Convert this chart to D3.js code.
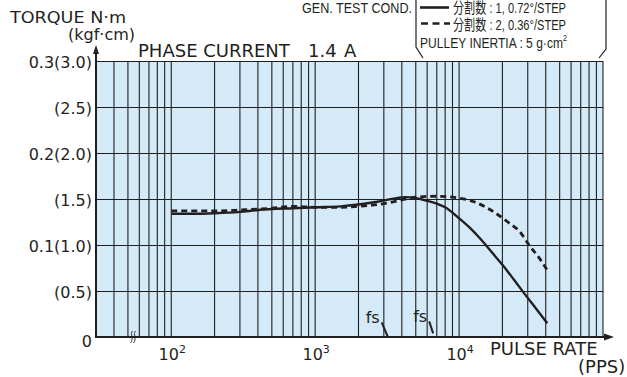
<!DOCTYPE html>
<html>
<head>
<meta charset="utf-8">
<script src="https://cdn.jsdelivr.net/npm/d3@7"></script>
<style>
  body { margin: 0; background: #fff; }
  svg { display: block; font-family: "DejaVu Sans", sans-serif; }
  text { fill: #231f20; }
</style>
</head>
<body>
<svg id="chart" width="627" height="377"></svg>
<script>
// torque curves (kgf·cm vs pulses per second)
var rateDiv1   = [100, 150, 200, 300, 400, 700, 1000, 1500, 2000, 2700, 3700, 4200, 5000, 6000, 7000, 8000, 10000, 12000, 14000, 17000, 20000, 24000, 28000, 34000, 41000];
var torqueDiv1 = [1.34, 1.34, 1.345, 1.36, 1.38, 1.40, 1.41, 1.42, 1.44, 1.47, 1.51, 1.52, 1.51, 1.48, 1.45, 1.41, 1.29, 1.18, 1.07, 0.915, 0.785, 0.625, 0.485, 0.315, 0.15];
var rateDiv2   = [100, 200, 300, 500, 700, 1000, 1500, 2000, 3000, 4000, 5000, 7000, 10000, 12700, 16600, 21800, 26900, 30600, 36000, 42000];
var torqueDiv2 = [1.37, 1.37, 1.38, 1.40, 1.42, 1.41, 1.41, 1.42, 1.45, 1.49, 1.52, 1.53, 1.51, 1.47, 1.38, 1.25, 1.13, 1.00, 0.86, 0.70];

// fs markers (start of the pull-in curves)
var fsRate   = [[2900, 3200], [6200, 6600]];
var fsTorque = [[0.16, 0.0], [0.17, 0.04]];

var yTicks      = [0, 0.5, 1.0, 1.5, 2.0, 2.5, 3.0];
var yTickLabels = ["0", "(0.5)", "0.1(1.0)", "(1.5)", "0.2(2.0)", "(2.5)", "0.3(3.0)"];
var xDecades    = [2, 3, 4];

var ink = "#231f20";
var svg = d3.select("#chart");

var x = d3.scaleLog().domain([30, 100000]).range([96, 603]);
var y = d3.scaleLinear().domain([0, 3]).range([337, 61]);

/* plot area */
svg.append("rect")
  .attr("x", x(30)).attr("y", y(3))
  .attr("width", x(100000) - x(30)).attr("height", y(0) - y(3))
  .attr("fill", "#d4eaf8");

/* grid */
var vLines = [];
[10, 100, 1000, 10000].forEach(function (dec) {
  for (var k = 1; k <= 9; k++) {
    var v = dec * k;
    if (v > 30) vLines.push(v);
  }
});
vLines.push(100000);

var grid = svg.append("g").attr("stroke", "#1f1f1f").attr("stroke-width", 1.1);
grid.selectAll(".vg").data(vLines).enter().append("line")
  .attr("x1", d => x(d)).attr("x2", d => x(d))
  .attr("y1", y(3)).attr("y2", y(0));
grid.selectAll(".hg").data(yTicks.slice(1)).enter().append("line")
  .attr("x1", x(30)).attr("x2", x(100000))
  .attr("y1", d => Math.round(y(d)) + 0.5).attr("y2", d => Math.round(y(d)) + 0.5);

/* curves */
var line = d3.line()
  .x(d => x(d[0]))
  .y(d => y(d[1]))
  .curve(d3.curveMonotoneX);

svg.append("path")
  .datum(d3.zip(rateDiv1, torqueDiv1))
  .attr("d", line)
  .attr("fill", "none").attr("stroke", ink).attr("stroke-width", 2.4);

svg.append("path")
  .datum(d3.zip(rateDiv2, torqueDiv2))
  .attr("d", line)
  .attr("fill", "none").attr("stroke", ink).attr("stroke-width", 2.8)
  .attr("stroke-dasharray", "6,4");

/* fs marks */
fsRate.forEach(function (r, i) {
  var pts = d3.zip(r, fsTorque[i]);
  svg.append("path")
    .attr("d", d3.line().x(d => x(d[0])).y(d => y(d[1]))(pts))
    .attr("stroke", ink).attr("stroke-width", 2).attr("fill", "none");
  svg.append("text")
    .attr("x", x(r[0]) - 2).attr("y", y(fsTorque[i][0]) + 1)
    .attr("text-anchor", "end").attr("font-size", 16)
    .text("fs");
});

/* axes */
svg.append("line")
  .attr("x1", x(30)).attr("x2", 606)
  .attr("y1", y(0)).attr("y2", y(0))
  .attr("stroke", ink).attr("stroke-width", 2);
svg.append("path")
  .attr("d", "M614," + y(0) + "L604," + (y(0) - 3.5) + "L604," + (y(0) + 3.5) + "Z")
  .attr("fill", ink);
svg.append("line")
  .attr("x1", x(30)).attr("x2", x(30))
  .attr("y1", y(0) + 1).attr("y2", 52)
  .attr("stroke", ink).attr("stroke-width", 2);
svg.append("path")
  .attr("d", "M" + x(30) + ",45L" + (x(30) - 3) + ",54L" + (x(30) + 3) + ",54Z")
  .attr("fill", ink);

/* axis break */
var brk = svg.append("g").attr("fill", "none").attr("stroke", ink).attr("stroke-width", 0.9);
[131.5, 134.5].forEach(function (bx) {
  brk.append("path")
    .attr("d", "M" + (bx + 1) + ",331 C" + (bx - 2) + ",334 " + (bx + 3) + ",338 " + (bx - 1) + ",343");
});

/* tick labels */
svg.selectAll(".yl").data(yTicks).enter().append("text")
  .attr("x", 92).attr("y", d => y(d) + 7 + (d === 0 ? 3 : 0))
  .attr("text-anchor", "end").attr("font-size", 16)
  .text((d, i) => yTickLabels[i]);

xDecades.forEach(function (p) {
  var t = svg.append("text")
    .attr("x", x(Math.pow(10, p)) + 1).attr("y", 360)
    .attr("text-anchor", "middle").attr("font-size", 16);
  t.append("tspan").text("10");
  t.append("tspan").attr("dy", -7).attr("font-size", 11).text(p);
});

/* titles */
svg.append("text").attr("x", 10).attr("y", 23).attr("font-size", 16)
  .attr("textLength", 116).attr("lengthAdjust", "spacingAndGlyphs").text("TORQUE N·m");
svg.append("text").attr("x", 68).attr("y", 40).attr("font-size", 16).text("(kgf·cm)");
svg.append("text").attr("x", 138).attr("y", 57).attr("font-size", 18).text("PHASE CURRENT");
svg.append("text").attr("x", 308).attr("y", 57).attr("font-size", 18).text("1.4");
svg.append("text").attr("x", 344).attr("y", 57).attr("font-size", 18).text("A");
svg.append("text").attr("x", 490).attr("y", 355).attr("font-size", 18).text("PULSE RATE");
svg.append("text").attr("x", 578).attr("y", 373).attr("font-size", 18).text("(PPS)");

/* legend box */
svg.append("path")
  .attr("d", "M416,0 L416,47 L423,58 M606,0 L606,49 L599,58")
  .attr("fill", "none").attr("stroke", ink).attr("stroke-width", 1.2);

var legFont = '"Liberation Sans", Arial, "Noto Sans CJK JP", sans-serif';
svg.append("text").attr("x", 302).attr("y", 13).attr("font-size", 15)
  .attr("font-family", legFont)
  .attr("textLength", 110).attr("lengthAdjust", "spacingAndGlyphs")
  .text("GEN. TEST COND.");

svg.append("line").attr("x1", 420).attr("x2", 449).attr("y1", 7.5).attr("y2", 7.5)
  .attr("stroke", ink).attr("stroke-width", 2.6);
svg.append("line").attr("x1", 421).attr("x2", 450).attr("y1", 23.5).attr("y2", 23.5)
  .attr("stroke", ink).attr("stroke-width", 2.6).attr("stroke-dasharray", "7,4.5");

var legRows = ["分割数 : 1, 0.72°/STEP", "分割数 : 2, 0.36°/STEP"];
legRows.forEach(function (s, i) {
  svg.append("text").attr("x", 453).attr("y", 13 + i * 17).attr("font-size", 15)
    .attr("font-family", legFont)
    .attr("textLength", 113).attr("lengthAdjust", "spacingAndGlyphs")
    .text(s);
});
var inertia = svg.append("text").attr("x", 420).attr("y", 48).attr("font-size", 15)
  .attr("font-family", legFont)
  .attr("textLength", 147).attr("lengthAdjust", "spacingAndGlyphs");
inertia.append("tspan").text("PULLEY INERTIA : 5 g·cm");
inertia.append("tspan").attr("dy", -7).attr("font-size", 9).text("2");
</script>
</body>
</html>
